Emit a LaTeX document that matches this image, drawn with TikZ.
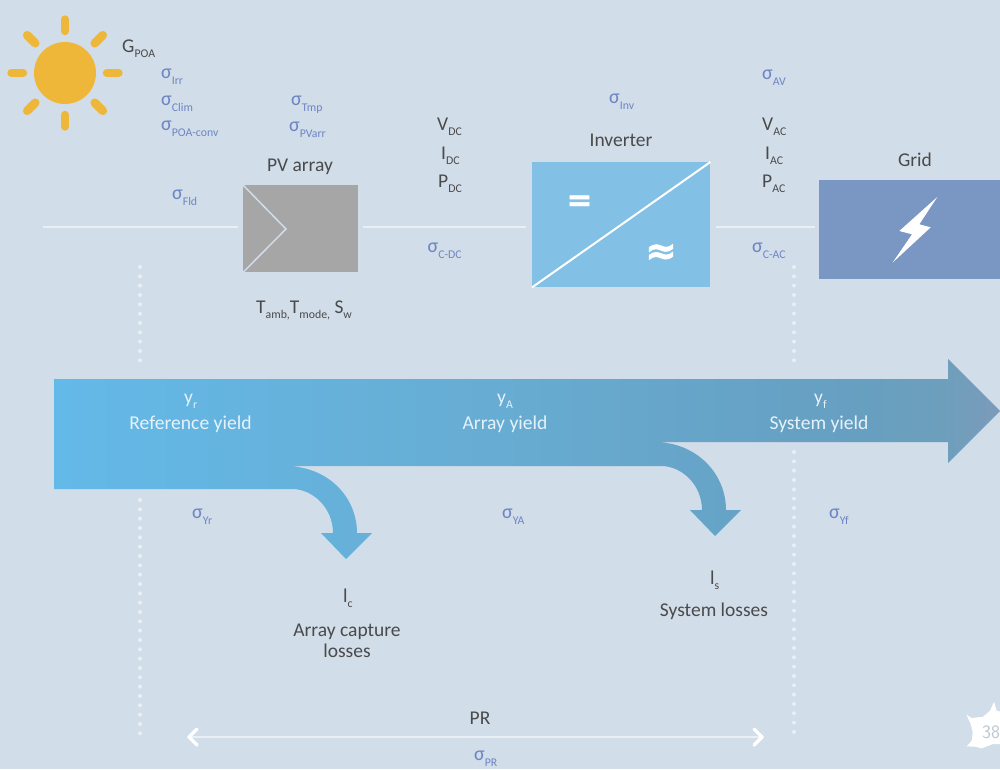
\documentclass[tikz,border=0pt]{standalone}
\usepackage{fontspec}
\setmainfont{Carlito}
\newfontfamily\symfont[FakeBold=1.5]{DejaVu Sans Bold}
\usetikzlibrary{arrows.meta}
\definecolor{bgc}{HTML}{D1DDE9}
\definecolor{sunc}{HTML}{EFB73A}
\definecolor{linec}{HTML}{E9EFF5}
\definecolor{darkt}{HTML}{4A4A4A}
\definecolor{sigc}{HTML}{6F85C3}
\definecolor{flowt}{HTML}{E6F2FA}
\definecolor{pvc}{HTML}{A6A6A6}
\definecolor{invc}{HTML}{83C0E5}
\definecolor{gridc}{HTML}{7A96C2}
\definecolor{fa}{HTML}{63B9E8}
\definecolor{fb}{HTML}{67ACD2}
\definecolor{fc}{HTML}{669FC1}
\definecolor{fd}{HTML}{6D9FBC}
\definecolor{fe}{HTML}{7B9BBA}
\pgfdeclarehorizontalshading{flowshade}{100bp}{
  color(0bp)=(fa);
  color(25bp)=(fa);
  color(48.6bp)=(fb);
  color(67bp)=(fc);
  color(72bp)=(fd);
  color(75bp)=(fe);
  color(100bp)=(fe)}
\newcommand{\lblsub}[2]{#1\raisebox{-0.3em}{\fontsize{11.8}{11.8}\selectfont #2}}
\newcommand{\sigsub}[1]{\lblsub{σ}{#1}}
\tikzset{
  dark/.style={anchor=base west,inner sep=0pt,text=darkt,font=\fontsize{19.5}{20}\selectfont},
  darkc/.style={anchor=base,inner sep=0pt,text=darkt,font=\fontsize{19.5}{20}\selectfont},
  sigl/.style={anchor=base west,inner sep=0pt,text=sigc,font=\fontsize{20}{20}\selectfont},
  flowl/.style={anchor=base,inner sep=0pt,text=flowt,font=\fontsize{19.6}{20}\selectfont},
  ray/.style={draw=sunc,line width=8.5pt,line cap=round},
  wire/.style={draw=linec,line width=1.5pt},
  dots/.style={draw=linec,line width=4pt,line cap=round,dash pattern=on 0pt off 9.33pt},
  blockn/.style={inner sep=0pt,anchor=north west}
}
\begin{document}
\begin{tikzpicture}[x=1pt,y=-1pt]
\useasboundingbox (0,0) rectangle (1000,769);
\fill[bgc] (0,0) rectangle (1000,769);
% sun
\fill[sunc] (65,73) circle (31);
\foreach \a in {0,45,...,315}{\draw[ray] (65,73)++(\a:42) -- ++(\a:11.5);}
% blocks
\node[blockn,fill=pvc,minimum width=115pt,minimum height=87pt] (pv) at (243,185) {};
\node[blockn,fill=invc,minimum width=178pt,minimum height=125pt] (inv) at (532,162) {};
\node[blockn,fill=gridc,minimum width=181pt,minimum height=99pt] (grid) at (819,180) {};
% wires
\coordinate (wstart) at (43,227);
\coordinate (wmid) at (363,227);
\coordinate (wmid2) at (716,227);
\draw[wire,shorten >=5pt] (wstart) -- (wstart -| pv.west);
\draw[wire,shorten >=6pt] (wmid) -- (wmid -| inv.west);
\draw[wire,shorten >=4pt] (wmid2) -- (wmid2 -| grid.west);
% PV chevron
\draw[bgc,line width=1.5pt] (pv.north west) -- (286,229) -- (pv.south west);
% inverter
\draw[white,line width=2pt] (inv.south west) -- (inv.north east);
\node[inner sep=0pt,text=white,font=\symfont\fontsize{31}{31}\selectfont] (eq) at (579.5,203) {=};
\node[inner sep=0pt,text=white,font=\symfont\fontsize{38}{38}\selectfont] (apx) at (661,254) {≈};
% bolt
\fill[white] (937.3,197) -- (899.3,231) -- (912,234.3) -- (892.7,262.5) -- (930.7,227.3) -- (919.3,224.3) -- cycle;
% dotted
\coordinate (d1a) at (140,267); \coordinate (d1b) at (140,369);
\coordinate (d2a) at (140,500); \coordinate (d2b) at (140,735);
\coordinate (d3a) at (794,267); \coordinate (d3b) at (794,369);
\coordinate (d4a) at (794,452); \coordinate (d4b) at (794,735);
\draw[dots] (d1a) -- (d1b);
\draw[dots] (d2a) -- (d2b);
\draw[dots] (d3a) -- (d3b);
\draw[dots] (d4a) -- (d4b);
% flow arrow
\path[shading=flowshade,shading angle=0]
 (54,379) -- (948,379) -- (948,359) -- (1000,411) -- (948,463) -- (948,442) -- (654,442)
 .. controls (697,442) and (726,474) .. (726,510) -- (741,510) -- (715,536) -- (690,510) -- (702,510)
 .. controls (702,485) and (682,466) .. (661,466) -- (285,466)
 .. controls (328,466) and (357,497) .. (357,533) -- (372,533) -- (346,559) -- (321,533) -- (333,533)
 .. controls (333,508) and (313,489) .. (292,489) -- (54,489) -- cycle;
% PR
\coordinate (pra) at (187,737); \coordinate (prb) at (764,737);
\draw[draw=linec,line width=2pt] (pra) -- (prb);
\draw[white,line width=3.5pt,line cap=round,line join=round] (197,729) -- (189,737) -- (197,745);
\draw[white,line width=3.5pt,line cap=round,line join=round] (754,729) -- (762,737) -- (754,745);
% leaf
\begin{scope}
\clip (0,0) rectangle (1000,769);
\fill[white] (966.3,714.7) -- (971.7,718) -- (983,716.7) -- (990,710.7) -- (994,701.7) -- (996.7,710.7) -- (1002,712) -- (1002,744) -- (993,744) -- (981.7,748.3) -- (975,746.7) -- (966.7,746.3) -- (971.7,740.7) -- (972.7,732.3) -- (970.7,724) -- cycle;
\node[anchor=base west,inner sep=0pt,text=bgc!90!black,font=\fontsize{19}{19}\selectfont\sffamily] (page) at (982,738.5) {38};
\end{scope}
% dark labels
\node[dark] (gpoa) at (122,52) {\lblsub{G}{POA}};
\node[darkc] (pvl) at (300,171) {PV array};
\node[dark] (tamb) at (256,313) {\lblsub{T}{amb,}\lblsub{T}{mode,} \lblsub{S}{w}};
\node[dark] (vdc) at (437,130) {\lblsub{V}{DC}};
\node[dark] (idc) at (441,159) {\lblsub{I}{DC}};
\node[dark] (pdc) at (438,187) {\lblsub{P}{DC}};
\node[darkc] (invl) at (621,146.5) {Inverter};
\node[dark] (vac) at (762,130) {\lblsub{V}{AC}};
\node[dark] (iac) at (765,159) {\lblsub{I}{AC}};
\node[dark] (pac) at (762,187) {\lblsub{P}{AC}};
\node[darkc] (gridl) at (915,166) {Grid};
\node[dark] (lc) at (343,602) {\lblsub{l}{c}};
\node[darkc] (lc1) at (347,636.5) {Array capture};
\node[darkc] (lc2) at (347,657) {losses};
\node[dark] (ls) at (710,584) {\lblsub{l}{s}};
\node[darkc] (ls1) at (714,616) {System losses};
\node[darkc] (prl) at (480,724) {PR};
% sigma labels
\node[sigl] (s1) at (161,78) {\sigsub{Irr}};
\node[sigl] (s2) at (161,105) {\sigsub{Clim}};
\node[sigl] (s3) at (161,130) {\sigsub{POA-conv}};
\node[sigl] (s4) at (291,105) {\sigsub{Tmp}};
\node[sigl] (s5) at (289,131) {\sigsub{PVarr}};
\node[sigl] (s6) at (172,199.5) {\sigsub{Fld}};
\node[sigl] (s7) at (427.5,252) {\sigsub{C-DC}};
\node[sigl] (s8) at (609,103) {\sigsub{Inv}};
\node[sigl] (s9) at (762,79) {\sigsub{AV}};
\node[sigl] (s10) at (752,252) {\sigsub{C-AC}};
\node[sigl] (s11) at (192,518) {\sigsub{Yr}};
\node[sigl] (s12) at (502,518) {\sigsub{YA}};
\node[sigl] (s13) at (829,518) {\sigsub{Yf}};
\node[sigl] (s14) at (474,760) {\sigsub{PR}};
% flow labels
\node[flowl,anchor=base west] (yr) at (184,403) {\lblsub{y}{r}};
\node[flowl] (yr1) at (190.5,429) {Reference yield};
\node[flowl,anchor=base west] (ya) at (497,403) {\lblsub{y}{A}};
\node[flowl] (ya1) at (505,429) {Array yield};
\node[flowl,anchor=base west] (yf) at (814,403) {\lblsub{y}{f}};
\node[flowl] (yf1) at (819,429) {System yield};
\end{tikzpicture}
\end{document}
